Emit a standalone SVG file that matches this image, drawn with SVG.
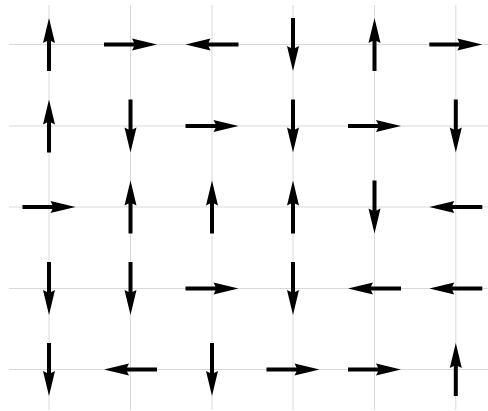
<svg xmlns="http://www.w3.org/2000/svg" xmlns:xlink="http://www.w3.org/1999/xlink" width="488" height="411" viewBox="0 0 488 411">
<style>
.grid{stroke:#d9d9d9;stroke-width:1;fill:none}
.arr{fill:#000;stroke:none}
</style>
<defs>
<polygon id="a" class="arr" points="-26.5,-2 3.5,-2 1.5,-6 26.5,0 1.5,6 3.5,2 -26.5,2"/>
</defs>
<rect width="488" height="411" fill="#fff"/>
<g id="grid" class="grid">
<line x1="49" y1="5" x2="49" y2="410"/>
<line x1="130.5" y1="5" x2="130.5" y2="410"/>
<line x1="212" y1="5" x2="212" y2="410"/>
<line x1="293" y1="5" x2="293" y2="410"/>
<line x1="374.5" y1="5" x2="374.5" y2="410"/>
<line x1="455.8" y1="5" x2="455.8" y2="410"/>
<line x1="9" y1="44.5" x2="488" y2="44.5"/>
<line x1="9" y1="126" x2="488" y2="126"/>
<line x1="9" y1="207" x2="488" y2="207"/>
<line x1="9" y1="288.5" x2="488" y2="288.5"/>
<line x1="9" y1="369.5" x2="488" y2="369.5"/>
</g>
<g id="arrows">
<g id="r0c0"><use xlink:href="#a" transform="translate(49,44.5) rotate(-90)"/></g>
<g id="r0c1"><use xlink:href="#a" transform="translate(130.5,44.5)"/></g>
<g id="r0c2"><use xlink:href="#a" transform="translate(212,44.5) rotate(180)"/></g>
<g id="r0c3"><use xlink:href="#a" transform="translate(293,44.5) rotate(90)"/></g>
<g id="r0c4"><use xlink:href="#a" transform="translate(374.5,44.5) rotate(-90)"/></g>
<g id="r0c5"><use xlink:href="#a" transform="translate(455.8,44.5)"/></g>

<g id="r1c0"><use xlink:href="#a" transform="translate(49,126) rotate(-90)"/></g>
<g id="r1c1"><use xlink:href="#a" transform="translate(130.5,126) rotate(90)"/></g>
<g id="r1c2"><use xlink:href="#a" transform="translate(212,126)"/></g>
<g id="r1c3"><use xlink:href="#a" transform="translate(293,126) rotate(90)"/></g>
<g id="r1c4"><use xlink:href="#a" transform="translate(374.5,126)"/></g>
<g id="r1c5"><use xlink:href="#a" transform="translate(455.8,126) rotate(90)"/></g>

<g id="r2c0"><use xlink:href="#a" transform="translate(49,207)"/></g>
<g id="r2c1"><use xlink:href="#a" transform="translate(130.5,207) rotate(-90)"/></g>
<g id="r2c2"><use xlink:href="#a" transform="translate(212,207) rotate(-90)"/></g>
<g id="r2c3"><use xlink:href="#a" transform="translate(293,207) rotate(-90)"/></g>
<g id="r2c4"><use xlink:href="#a" transform="translate(374.5,207) rotate(90)"/></g>
<g id="r2c5"><use xlink:href="#a" transform="translate(455.8,207) rotate(180)"/></g>

<g id="r3c0"><use xlink:href="#a" transform="translate(49,288.5) rotate(90)"/></g>
<g id="r3c1"><use xlink:href="#a" transform="translate(130.5,288.5) rotate(90)"/></g>
<g id="r3c2"><use xlink:href="#a" transform="translate(212,288.5)"/></g>
<g id="r3c3"><use xlink:href="#a" transform="translate(293,288.5) rotate(90)"/></g>
<g id="r3c4"><use xlink:href="#a" transform="translate(374.5,288.5) rotate(180)"/></g>
<g id="r3c5"><use xlink:href="#a" transform="translate(455.8,288.5) rotate(180)"/></g>

<g id="r4c0"><use xlink:href="#a" transform="translate(49,369.5) rotate(90)"/></g>
<g id="r4c1"><use xlink:href="#a" transform="translate(130.5,369.5) rotate(180)"/></g>
<g id="r4c2"><use xlink:href="#a" transform="translate(212,369.5) rotate(90)"/></g>
<g id="r4c3"><use xlink:href="#a" transform="translate(293,369.5)"/></g>
<g id="r4c4"><use xlink:href="#a" transform="translate(374.5,369.5)"/></g>
<g id="r4c5"><use xlink:href="#a" transform="translate(455.8,369.5) rotate(-90)"/></g>
</g>
</svg>
